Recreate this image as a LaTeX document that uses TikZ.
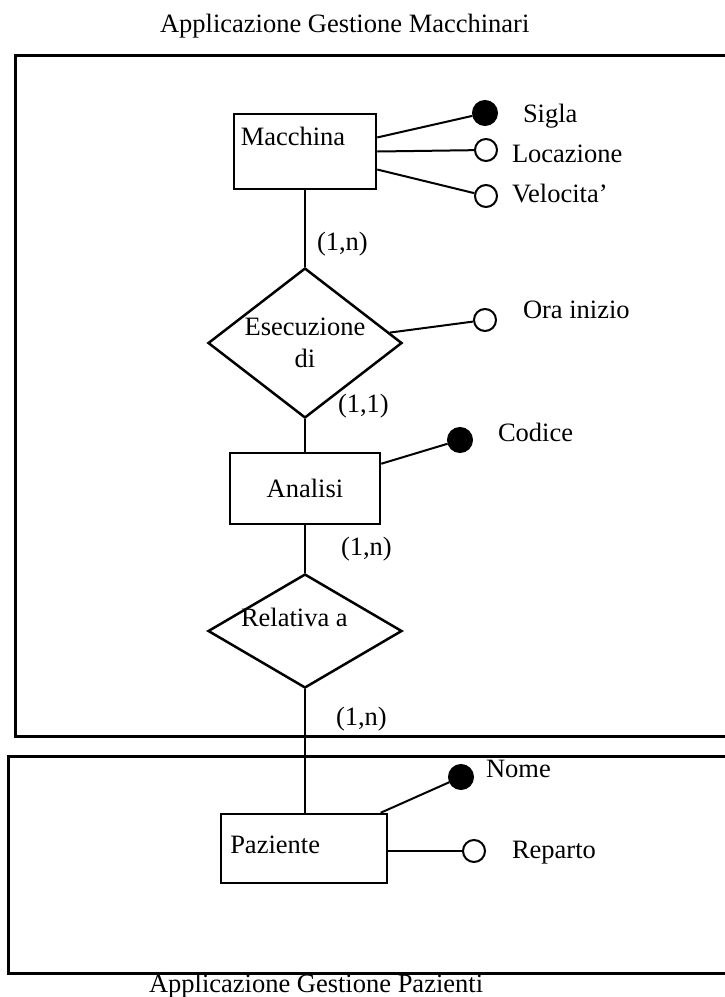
\documentclass[tikz,border=0pt]{standalone}
\usepackage{fontspec}
\setmainfont{Liberation Serif}
\usetikzlibrary{shapes.geometric}
\usetikzlibrary{positioning}

\begin{document}
\begin{tikzpicture}[x=1pt,y=-1pt,line width=2pt,
  every node/.style={font=\fontsize{26.5}{32}\selectfont},
  entity/.style={draw,rectangle,line width=2.5pt,inner sep=0pt},
  rel/.style={draw,diamond,line width=2.5pt,inner sep=0pt,align=center},
  key/.style={draw,circle,fill=black,minimum size=24pt,inner sep=0pt},
  attr/.style={draw,circle,fill=white,minimum size=22pt,inner sep=0pt},
  txt/.style={anchor=base west,inner sep=0pt}]
  \clip (0,0) rectangle (725,997);
  % le due applicazioni
  \draw[line width=3pt] (15,55) rectangle (745,736);
  \draw[line width=3pt] (8,756) rectangle (745,973);
  \node[txt] (tit1) at (159,32) {Applicazione Gestione Macchinari};
  \node[txt] (tit2) at (148,992) {Applicazione Gestione Pazienti};
  % entita' e relazioni
  \node[entity,minimum width=142pt,minimum height=75pt,
    label={[anchor=base west,inner sep=0pt,xshift=7pt,yshift=-33pt]north west:Macchina}] (M) at (305,151.5) {};
  \node[rel,minimum width=194pt,minimum height=150pt,aspect=1.3] (E) at (305,343) {Esecuzione\\di};
  \node[entity,minimum width=150pt,minimum height=71pt] (A) at (305,488.5) {Analisi};
  \node[rel,minimum width=194pt,minimum height=114pt] (R) at (305,631) {};
  \node[txt] (R-t) at (240,626) {Relativa a};
  \node[entity,minimum width=166pt,minimum height=69pt,
    label={[anchor=base west,inner sep=0pt,xshift=9.5pt,yshift=-41pt]north west:Paziente}] (P) at (304,848.5) {};
  % attributi
  \node[key] (sigla) at (485,113) {};
  \node[attr] (locazione) at (486,150) {};
  \node[attr] (velocita) at (486,196) {};
  \node[attr] (orainizio) at (485,320) {};
  \node[key] (codice) at (460,440) {};
  \node[key] (nome) at (461,777) {};
  \node[attr] (reparto) at (474,851) {};
  \node[txt] (sigla-t) at (522,122) {Sigla};
  \node[txt] (locazione-t) at (511,162) {Locazione};
  \node[txt] (velocita-t) at (511,202) {Velocita'};
  \node[txt] (orainizio-t) at (522,318) {Ora inizio};
  \node[txt] (codice-t) at (497,441) {Codice};
  \node[txt] (nome-t) at (485,777) {Nome};
  \node[txt] (reparto-t) at (511,858) {Reparto};
  % cardinalita'
  \node[txt] (c1) at (316,250) {(1,n)};
  \node[txt] (c2) at (337,412) {(1,1)};
  \node[txt] (c3) at (340,555) {(1,n)};
  \node[txt] (c4) at (335,725) {(1,n)};
  \path (M) edge (E);
  \path (E) edge (A);
  \path (A) edge (R);
  \path (R) edge (R.south |- P.north);
  \path (M.11) edge (sigla);
  \path (M.east) edge (locazione);
  \path (M.-14) edge (velocita);
  \path (E.7) edge (orainizio);
  \path (A.18) edge (codice);
  \path (P.25) edge (nome);
  \path (P.east |- reparto) edge (reparto);
\end{tikzpicture}
\end{document}
